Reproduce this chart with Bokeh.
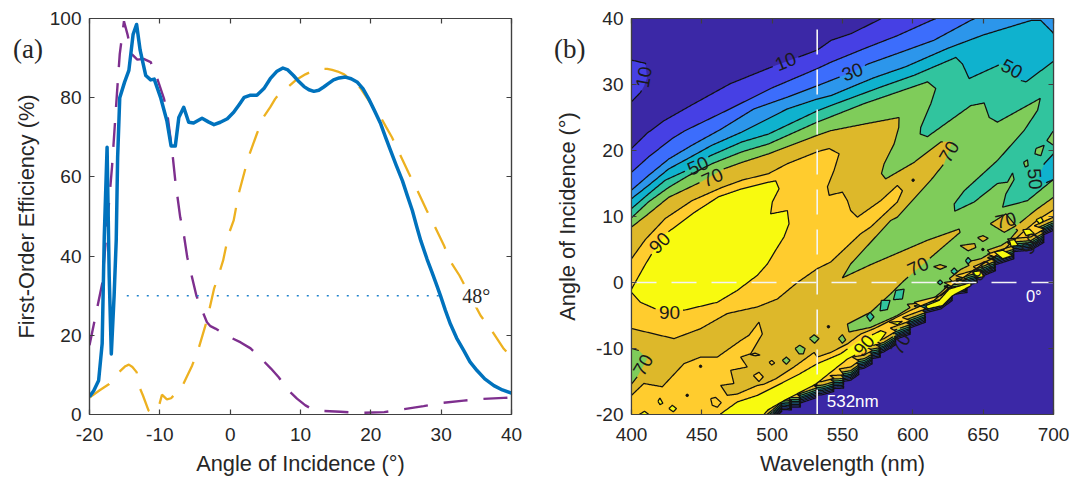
import numpy as np
from bokeh.plotting import figure
from bokeh.layouts import row
from bokeh.models import Range1d, LinearAxis, FixedTicker, Label, Div
from bokeh.core.properties import value
from bokeh.embed import file_html
from bokeh.resources import INLINE

# ---------- panel (a) data ----------
x_ticks_a = [-20, -10, 0, 10, 20, 30, 40]
x_labels_a = ["-20", "-10", "0", "10", "20", "30", "40"]
y_ticks_a = [0, 20, 40, 60, 80, 100]
y_labels_a = ["0", "20", "40", "60", "80", "100"]

blue_x = [-20, -19.4, -18.7, -18.2, -17.9, -17.5, -17.2, -16.9, -16.5, -16.2, -16, -15.7, -15, -14.4, -13.8, -13.3, -12.8, -12, -11.3, -10.8, -9.9, -9, -8.4, -7.8, -7.3, -6.6, -5.9, -5.2, -4, -3.1, -2.3, -1.4, -0.4, 0.5, 1.3, 2, 2.8, 3.8, 4.8, 5.7, 6.6, 7.5, 8.2, 9, 9.8, 10.5, 11.2, 11.9, 12.6, 13.3, 14, 14.7, 15.5, 16.4, 17.2, 18.1, 18.9, 19.7, 20.5, 21.4, 22.1, 22.8, 23.6, 24.5, 25.2, 25.9, 26.5, 27.1, 28, 28.7, 29.3, 29.9, 30.6, 31.3, 32.2, 33.2, 34.1, 35.1, 36.2, 37.5, 38.7, 40]
blue_y = [4.5, 6, 8.6, 17.9, 45, 67.5, 35, 15.3, 30, 44, 65, 80, 84, 86.9, 96, 98.5, 92, 85.6, 84.5, 84.7, 80.1, 74.2, 67.8, 67.8, 75, 77.6, 73.8, 73.6, 74.8, 73.9, 73.2, 73.8, 74.7, 76.3, 78.3, 80.1, 80.6, 80.6, 82.3, 84.8, 86.6, 87.5, 87, 85.6, 84, 82.8, 82, 81.6, 81.9, 82.7, 83.6, 84.5, 85, 85.2, 84.8, 83.9, 82.2, 79.7, 76.8, 73.4, 70, 66.7, 63, 59, 55.2, 51.5, 47.6, 43.9, 39.2, 35.9, 33, 30, 26.3, 22.9, 19.3, 16.2, 13.3, 11.1, 9, 7.3, 6.2, 5.4]

purple_x = [-20, -18.2, -16.8, -16.1, -15.7, -15.1, -14.6, -14, -13.2, -12.3, -11.3, -10.4, -9.4, -8.9, -8.2, -7.8, -7.1, -6.6, -6.1, -5.6, -4.8, -4, -3.3, -2.8, -2.1, -1, 0, 1.5, 2.9, 3.8, 4.7, 5.8, 6.9, 7.6, 8.3, 9.5, 10.7, 11.5, 13, 15.7, 18.6, 21.9, 24.2, 27.5, 29.9, 33.2, 35.6, 38.9, 40]
purple_y = [17.5, 33, 62.5, 81, 91, 99.3, 96, 91, 89.6, 89.8, 89, 85, 79.7, 75.5, 65.8, 59, 49.8, 45.6, 39.7, 36, 30, 26.3, 23.3, 22.3, 21.7, 20.5, 19.5, 18.2, 16.7, 15.2, 13.6, 11.6, 9.4, 7.7, 6.1, 4, 2.3, 1.5, 0.9, 0.7, 0.4, 0.6, 1.2, 2.1, 2.9, 3.5, 3.9, 4.2, 4.3]

orange_x = [-20, -18.5, -17.2, -15.8, -14.9, -14.4, -13.9, -13.3, -12.8, -12.4, -11.6, -10.9, -10.1, -9.7, -9, -8.4, -6.8, -5.4, -4.5, -3.3, -2.3, -1.5, -1, -0.2, 0.5, 1.2, 2.6, 3.8, 4.7, 5.7, 6.4, 7, 8.1, 9.3, 10.7, 11.8, 13, 13.8, 14.5, 15.3, 16.2, 17.3, 18.5, 19.8, 21.4, 22.2, 23, 24, 25.4, 26.4, 27.9, 28.9, 30.4, 31.2, 32.6, 35.6, 37, 38.9, 40]
orange_y = [4.3, 6.2, 7.7, 10.7, 12.2, 12.6, 12, 10.7, 6.5, 4.8, 1, 0.3, 2.3, 5, 3.8, 4.1, 7.2, 12.4, 16.6, 23.8, 31.7, 36, 38.9, 45.6, 49, 55.7, 65, 70.9, 75, 77.6, 79.7, 81, 82.5, 84.4, 85.9, 86.8, 87.3, 87.3, 87, 86.6, 85.9, 84.3, 82.5, 79, 75.1, 72.5, 70, 66.2, 60.9, 57.4, 51.7, 48.2, 42.7, 39, 35.1, 25, 21.7, 16.6, 14.5]

dotted_x = [-14.7, 30]
dotted_y = [30, 30]

# ---------- panel (b) data: boundaries of the filled contour levels ----------
x_ticks_b = [400, 450, 500, 550, 600, 650, 700]
x_labels_b = ["400", "450", "500", "550", "600", "650", "700"]
y_ticks_b = [-20, -10, 0, 10, 20, 30, 40]
y_labels_b = ["-20", "-10", "0", "10", "20", "30", "40"]

band_colors = ["#3B28A6", "#4640E4", "#3C6DFC", "#2C96EB", "#0FB2CE", "#31C49E", "#7FCC5A", "#DDB82A", "#FFCC2E", "#F8FA0F"]

l10_lam = [394, 400, 411, 423, 442, 470, 499, 532, 542, 556, 575, 590]
l10_ang = [19, 20.3, 22.6, 24.5, 26.8, 30.1, 32.6, 35.2, 36.7, 37.7, 39.7, 41.5]
l20_lam = [394, 400, 412, 428.8, 438, 470, 499, 532, 542, 565, 589, 613, 640]
l20_ang = [15, 16.7, 19, 21.8, 23, 26.3, 29.4, 32.4, 33.4, 35.4, 37.4, 39.7, 42]
l30_lam = [394, 400, 412, 426.4, 443, 463.4, 487, 511, 532, 557, 568, 589, 615, 641, 660]
l30_ang = [12.5, 14, 16.2, 18.7, 20.8, 23.2, 26.3, 28.1, 29.8, 31.9, 33.1, 34.7, 36.7, 39.7, 41.5]
l40_lam = [394, 400, 412, 426.4, 439.4, 457.2, 478.5, 510.8, 532, 541.6, 572, 595, 625, 650, 684, 691, 699, 706]
l40_ang = [11.5, 12.7, 14.7, 17.2, 18.7, 20.8, 22.8, 26.3, 27.8, 28.3, 31, 32.7, 35.5, 37.5, 39.7, 39.7, 38, 36]
l50_lam = [394, 400, 412, 424, 439.4, 456, 478.5, 497.5, 532, 541.6, 577, 601, 630.6, 635.3, 640, 662.6, 676.8, 680.4, 699.3, 706]
l50_ang = [10, 11.2, 13.4, 15.5, 17, 19.2, 21.3, 22.5, 26, 26.8, 29.6, 31.4, 34.1, 33.1, 30.9, 33.1, 30.6, 30.4, 33.4, 34.5]
l60_lam = [394, 400, 412, 426.4, 440.6, 457.2, 478.5, 497.5, 532, 541.6, 565.3, 610.4, 616.3, 612.8, 605.6, 605.2, 610.4, 641.2, 650.7, 654.3, 660.2, 690.6, 688.7, 679, 660.2, 636.5, 629.4, 629.8, 643.6, 660.2, 667.3, 670.9, 672, 666.1, 663.8, 681.5, 699.3, 706]
l60_ang = [8.6, 9.8, 12.2, 14.4, 16.2, 18, 19.8, 21, 24.3, 25.1, 27.1, 30.4, 29.4, 27.1, 23.5, 22.5, 22.1, 26.8, 27.2, 25, 24.3, 27.9, 26.1, 23, 18.5, 13.9, 11.9, 10.8, 12.2, 15, 15.2, 16.6, 15.6, 13.4, 11.4, 12.4, 15.5, 16]
l70_lam = [394, 400, 412, 426.4, 449, 465.5, 478.5, 497.5, 532, 541.6, 565.3, 590.2, 590, 586.7, 579.6, 577.7, 580.7, 600.9, 619.9, 628.2, 622.2, 612.8, 589, 584.3, 555.8, 549.9, 570, 610.4, 632.9, 633.6, 612.8, 593.8, 584.3, 570, 553.5, 554.6, 570, 589, 598, 596, 609.2, 613, 619.9, 628.2, 626, 634.2, 640, 638, 648.4, 655, 653, 662.7, 668, 674.5, 672, 679.3, 688.8, 700.6, 706]
l70_ang = [7, 8.4, 10.4, 12.9, 15.2, 17.2, 18.2, 19.5, 22.3, 23, 24, 25, 23.5, 21, 18, 16.5, 15.7, 18.2, 21.3, 21.4, 18, 15.5, 9.9, 9.4, 2.8, 0.7, 2.7, 6.4, 8.1, 7.6, 3.8, 0.3, -1.7, -4.5, -6.3, -7.5, -6.8, -5, -3.8, -3.3, -3, -2.7, -1.5, 0.1, 0.6, 2, 2.6, 3.1, 3.6, 4.4, 4.9, 5.6, 6.3, 7.9, 8.3, 9.6, 11.2, 13, 14]
l80a_lam = [394, 400, 409.8, 424, 443, 464.3, 478.5, 497.5, 510.8, 532, 540.5, 547.6, 544, 539.3, 540.5, 549.9, 553.5, 555.8, 560.6, 577.2, 589, 592.6, 589, 570, 563, 541.6, 532.1, 517.9, 503.7, 489.5, 468.1, 449.1, 430.2, 400.5, 394]
l80a_ang = [2, 3.6, 6.5, 9.7, 12.4, 14.4, 15.5, 16.5, 18, 19.8, 20.3, 19.5, 17, 14.5, 13.2, 13.7, 12.4, 10.9, 9.9, 12.4, 14.7, 13.9, 12.2, 8.4, 7.4, 3.1, 2.1, 0, -2.5, -3.7, -4.7, -7, -8.5, -7, -6.5]
l80b_lam = [394, 400, 408.8, 421.9, 437.3, 449.1, 461, 477.6, 483.5, 490.6, 493, 484.7, 477.6, 482.3, 470.5, 472.8, 463.4, 468.1, 475.2, 489.5, 494.2, 502.5, 515.5, 529.8, 532.1, 541.6, 553.5, 563, 572.4, 577.2, 598.5, 615.1, 629.4, 634.2, 648.4, 662.7, 679.2, 688.8, 700, 706]
l80b_ang = [-19, -17.1, -15.3, -15.8, -12.3, -11.3, -11.3, -8.8, -8, -6, -7.8, -10.8, -11.3, -12.8, -13.3, -15.3, -15.6, -17.1, -16.9, -15.6, -15.4, -14.6, -12.8, -10.6, -11.3, -10.6, -9.3, -7.8, -7, -6.5, -4.2, -2.7, -0.2, 0.5, 2.6, 4.6, 7.8, 9.5, 11, 12]
l90a_lam = [394, 400, 410, 416, 424.2, 427.6, 445.3, 462, 478.5, 497.5, 502.5, 504.9, 500.1, 498.9, 510.8, 512, 508.4, 502.5, 496.6, 489.5, 475.2, 461, 437.3, 417.1, 406.4, 400, 394]
l90a_ang = [-1.5, -1, 2.8, 4.9, 7.4, 7.9, 10.7, 13, 14.2, 15.2, 15.4, 14.2, 12.2, 10.4, 10.9, 8.9, 6.9, 4.9, 2.8, 1.1, -1.2, -3, -4.2, -4, -3, -1.5, -2]
l90b_lam = [460, 463.4, 475.2, 489.5, 507.2, 519.1, 532.1, 548.7, 560.6, 577.2, 581, 577.2, 565.3, 553.5, 541.6, 531, 508.4, 497, 490]
l90b_ang = [-21, -19.9, -18.1, -17.1, -15.2, -13.9, -12.3, -10.8, -9, -7.3, -7.6, -8.7, -10.3, -11.6, -13.6, -15.4, -17.9, -19.3, -21]

cliff_lam = [470, 490, 500, 507, 503, 514, 511, 520.3, 518, 532.1, 530, 535.7, 544, 541, 551, 547.6, 555.9, 561.8, 557, 565.3, 571.3, 566.5, 577.2, 574, 579.5, 588, 584, 598.5, 592.6, 609.2, 600.9, 619.9, 628.2, 622.2, 638.9, 630.5, 646, 643, 659, 653, 672, 667.3, 683.9, 693.4, 686.3, 700, 706]
cliff_ang = [-24, -22.5, -20.8, -19.5, -19.2, -19.3, -18.9, -18.9, -18.4, -17.4, -17.1, -17, -16.5, -16.1, -16, -15.1, -14.8, -13.9, -13.3, -13, -12.3, -11.7, -11.3, -10.9, -10.5, -9.4, -8.9, -7.8, -7.3, -6, -5, -4, -2.7, -2, -1.5, -0.95, 0, 0.4, 1.8, 2.3, 3.6, 4.6, 4.9, 6.1, 6.6, 7.9, 8.6]
cliff_shift = {10: 0, 20: 0.22, 30: 0.44, 40: 0.66, 50: 0.88, 60: 1.15, 70: 1.45, 80: 2.0}

# small closed patches: band index, wavelengths, angles
patch_band = [1, 4, 6, 6, 6, 6, 6, 6, 6, 8, 8, 8, 7, 9, 9, 9, 5, 5, 5, 5, 5, 5, 7, 7, 7, 7, 9, 9, 9, 9, 9, 9, 9, 6]
patch_lam = [
    [394, 400, 410, 411, 409, 406.4, 400, 394],
    [706, 700, 693.4, 691.5, 689.1, 693.4, 700, 706],
    [706, 699.3, 695.3, 699.3, 706],
    [687.5, 693.4, 691, 686.8],
    [678.7, 681.5, 682, 679.9],
    [526.5, 529.8, 533.3, 530.2],
    [516.3, 519.6, 523.4, 522.2, 519.1],
    [507.2, 510.1, 512.7, 510.1],
    [547.1, 549.9, 552.3, 549.9],
    [497.8, 499.7, 501.8, 499.7],
    [486.6, 490.6, 493.7, 490.6],
    [456.3, 459.8, 463.8, 461, 457.4],
    [655, 666.2, 673.3, 665],
    [426.6, 429, 432, 429.7],
    [418.8, 420.2, 422.3, 420.2],
    [404, 409.3, 413.5],
    [587.9, 593.8, 592.6, 586.2],
    [577.6, 583.8, 581.9, 576.7],
    [569.6, 572.4, 569.6, 567.2],
    [617.5, 619.4, 621.3, 619.4],
    [627, 629.4, 631.7, 629.4],
    [637.4, 639.3, 641.5, 639.3],
    [614.7, 619.4, 624.1, 619.4],
    [633.6, 644, 644.8, 639.3],
    [646, 649.8, 653.6, 649.8],
    [484.2, 487.8, 491.4, 487.8],
    [583.1, 592.6, 589],
    [687.6, 691.1, 692.8, 690],
    [678.1, 682.8, 686.4, 680.5],
    [668.6, 672.2, 675, 669.8],
    [657.9, 663.9, 671, 663.9],
    [642.5, 648.4, 650.8, 644.9],
    [609.2, 618.7, 625.8, 641.3, 641.3, 628.2, 621.1, 610.4],
    [394, 400, 405.2, 411.2, 404, 400, 394],
]
patch_ang = [
    [34, 33.7, 33.2, 31, 29.8, 28.8, 27.4, 26],
    [21, 19.5, 18, 17, 16, 15, 15.6, 15.8],
    [24, 22.8, 21.5, 20.9, 20.5],
    [20.3, 20.8, 19.2, 19.5],
    [18.2, 18.6, 17.7, 17.5],
    [-8.5, -7.9, -8.5, -9.2],
    [-10, -9.5, -10, -10.8, -10.8],
    [-11.8, -11.3, -11.8, -12.4],
    [-8.5, -7.9, -8.7, -9.2],
    [-12.1, -11.8, -12.2, -12.5],
    [-14.1, -13.6, -14.3, -15],
    [-17.6, -17.4, -18.2, -18.9, -18.6],
    [8.9, 10.4, 8.6, 7.6],
    [-19.1, -18.6, -19.1, -19.6],
    [-18, -17.5, -18.3, -18.5],
    [-20.2, -19.5, -20.2],
    [-1.2, -1, -2.5, -2.6],
    [-2.7, -2.7, -4.1, -4.3],
    [-4.5, -5.2, -5.9, -5.1],
    [0, 0.4, 0, -0.35],
    [1.7, 2.2, 1.7, 1.2],
    [3.3, 3.8, 3.3, 2.8],
    [2.4, 2.7, 2.4, 2],
    [5.6, 5.9, 5.3, 4.8],
    [6.8, 7.1, 6.7, 6.2],
    [-10.9, -10.7, -11, -11.1],
    [-6, -5.9, -6.4],
    [9.5, 9.9, 9.3, 8.9],
    [8, 8.1, 7.4, 7.1],
    [6.4, 6.5, 5.6, 5.5],
    [4.6, 4.9, 4.1, 3.6],
    [1.6, 1.8, 0.9, 0.7],
    [-3.5, -2.7, -1, 0, -0.5, -2, -3.5, -4],
    [-9.5, -10, -10.3, -11.6, -14.3, -15.4, -16],
]
dot_lam = [449.1, 439.6, 540, 600.2, 649.8]
dot_ang = [-12.7, -17.1, -6.7, 15.5, 5]

lab_text = ["10", "10", "30", "50", "50", "70", "70", "50", "70", "90", "90", "70", "70", "90", "70", "90", "90"]
lab_lam = [509.6, 408.8, 557, 670.4, 447.2, 457.4, 625.8, 686.8, 666, 420, 427, 408.3, 603.7, 565.3, 591.4, 649.5, 683.9]
lab_ang = [33.5, 31.1, 31.9, 32.4, 17.7, 15.9, 19.8, 15.7, 9.4, 6, -4.6, -12.5, 2.4, -9.5, -9.3, 1.8, 5.9]
lab_rot = [22, 80, 20, -28, 24, 24, 60, -85, 12, 45, 0, 60, 25, 50, 60, 40, 60]
lab_level = [10, 10, 30, 50, 50, 70, 70, 50, 70, 90, 90, 70, 70, 90, 70, 90, 90]

wl_line_x = [532, 532]
wl_line_y = [-20, 40]
ang_line_x = [400, 700]
ang_line_y = [0, 0]

SANS = "Liberation Sans"
SERIF = "Liberation Serif"
INK = "#262626"
SPINE = "#404040"


def make_fig(width, left, right, xr, yr, xt, xl, yt, yl, xlabel, ylabel, yst):
    p = figure(width=width, height=479, output_backend="svg", toolbar_location=None,
               x_range=Range1d(*xr), y_range=Range1d(*yr),
               min_border_left=left, min_border_right=right, min_border_top=18, min_border_bottom=65)
    p.grid.visible = False
    p.outline_line_color = SPINE
    p.outline_line_width = 1.2
    p.background_fill_color = "white"
    for ax, t, l, lab in ((p.xaxis[0], xt, xl, xlabel), (p.yaxis[0], yt, yl, ylabel)):
        ax.ticker = FixedTicker(ticks=t)
        ax.major_label_overrides = dict(zip(t, l))
        ax.major_tick_in, ax.major_tick_out, ax.minor_tick_in, ax.minor_tick_out = 5, 0, 0, 0
        ax.axis_line_color = SPINE
        ax.axis_line_width = 1.2
        ax.major_tick_line_color = SPINE
        ax.major_tick_line_width = 1.2
        ax.major_label_text_font = SANS
        ax.major_label_text_font_size = "19px"
        ax.major_label_text_color = INK
        ax.axis_label = lab
        ax.axis_label_text_font = SANS
        ax.axis_label_text_font_size = "21.8px"
        ax.axis_label_text_font_style = "normal"
        ax.axis_label_text_color = INK
    p.xaxis[0].major_label_standoff = 13
    p.xaxis[0].axis_label_standoff = 7
    p.yaxis[0].major_label_standoff = 8
    p.yaxis[0].axis_label_standoff = yst
    p.yaxis[0].major_label_orientation = "horizontal"
    for side, t in (("above", xt), ("right", yt)):
        ax = LinearAxis(ticker=FixedTicker(ticks=t), major_label_overrides={k: "" for k in t}, major_label_standoff=0,
                        major_tick_in=5, major_tick_out=0, minor_tick_in=0, minor_tick_out=0,
                        axis_line_color=SPINE, axis_line_width=1.2, major_tick_line_color=SPINE, major_tick_line_width=1.2)
        p.add_layout(ax, side)
    return p


# ---------- panel (a) ----------
p1 = make_fig(538, 89, 27, (-20, 40), (0, 100), x_ticks_a, x_labels_a, y_ticks_a, y_labels_a,
              "Angle of Incidence (°)", "First-Order Efficiency (%)", 8)
p1.line(purple_x, purple_y, line_color="#7E2F8E", line_width=2.4, line_dash="24 16")
p1.line(orange_x, orange_y, line_color="#EDB120", line_width=2.3, line_dash="24 16")
p1.line(dotted_x, dotted_y, line_color="#1F82CC", line_width=1.5, line_dash="2 8")
p1.add_layout(Label(x=33, y=29.8, text="48°", text_font=SERIF, text_font_size="20px", text_color=INK,
                    text_baseline="middle", background_fill_color="white"))
p1.line(blue_x, blue_y, line_color="#0072BD", line_width=3.5, line_join="round")


# ---------- panel (b) ----------
p2 = make_fig(537, 93, 22, (400, 700), (-20, 40), x_ticks_b, x_labels_b, y_ticks_b, y_labels_b,
              "Wavelength (nm)", "Angle of Incidence (°)", 13)
p2.background_fill_color = band_colors[0]


def with_gaps(lam, ang, level):
    lam, ang = list(lam) + [lam[0]], list(ang) + [ang[0]]
    xs, ys = [], []
    for i in range(len(lam) - 1):
        n = 1 + int(max(abs(lam[i + 1] - lam[i]) * 1.405, abs(ang[i + 1] - ang[i]) * 6.6))
        t = np.arange(n) / n
        xs.append(lam[i] + (lam[i + 1] - lam[i]) * t)
        ys.append(ang[i] + (ang[i + 1] - ang[i]) * t)
    xs, ys = np.concatenate(xs + [[lam[-1]]]), np.concatenate(ys + [[ang[-1]]])
    ys_out = ys.copy()
    for lx, ly, rot, lev in zip(lab_lam, lab_ang, lab_rot, lab_level):
        if lev != level:
            continue
        dx, dy = (xs - lx) * 1.405, (ys - ly) * 6.6
        a = np.deg2rad(rot)
        u, v = dx * np.cos(a) + dy * np.sin(a), -dx * np.sin(a) + dy * np.cos(a)
        ys_out[(np.abs(u) < 13) & (np.abs(v) < 10)] = np.nan
    return xs, ys_out


def draw_ring(lam, ang, band, level=None):
    p2.patch(lam, ang, fill_color=band_colors[band], line_color=None)
    xs, ys = with_gaps(lam, ang, level)
    p2.line(xs, ys, line_color="#111111", line_width=1.25)


def upper_ring(upper_lam, upper_ang, level):
    s = cliff_shift[level]
    lam = list(upper_lam) + cliff_lam[::-1] + [394]
    ang = list(upper_ang) + [a + s for a in cliff_ang[::-1]] + [-24]
    return lam, ang


for lev, ul, ua, band in ((10, l10_lam, l10_ang, 1), (20, l20_lam, l20_ang, 2), (30, l30_lam, l30_ang, 3),
                          (40, l40_lam, l40_ang, 4), (50, l50_lam, l50_ang, 5), (60, l60_lam, l60_ang, 6),
                          (70, l70_lam, l70_ang, 7)):
    if lev in (10, 20, 30):
        # these three leave the frame through the top edge
        ul = list(ul) + [706]
        ua = list(ua) + [42]
    lam, ang = upper_ring(ul, ua, lev)
    draw_ring(lam, ang, band, lev)

draw_ring(l80a_lam, l80a_ang, 8, 80)
lam, ang = upper_ring(l80b_lam, l80b_ang, 80)
draw_ring(lam, ang, 8, 80)
draw_ring(l90a_lam, l90a_ang, 9, 90)
draw_ring(l90b_lam, l90b_ang, 9, 90)

for b, lam, ang in zip(patch_band, patch_lam, patch_ang):
    draw_ring(lam, ang, b, 10 if b == 1 else 70 if b == 6 else 50 if b == 4 else None)

p2.scatter(dot_lam, dot_ang, size=2.5, color="#111111")

p2.text(lab_lam, lab_ang, text=lab_text, angle=lab_rot, angle_units="deg", text_font=value(SANS),
        text_font_size={"value": "19px"}, text_align="center", text_baseline="middle", text_color="#1A1A1A")

p2.line(wl_line_x, wl_line_y, line_color="#F4F4F4", line_width=1.6, line_dash="25 15")
p2.line(ang_line_x, ang_line_y, line_color="#F4F4F4", line_width=1.6, line_dash="25 15")

p2.text([538.8], [-18], text=["532nm"], text_font=value(SANS), text_font_size={"value": "17px"},
        text_color="white", text_baseline="middle")
p2.text([680.4], [-2], text=["0°"], text_font=value(SANS), text_font_size={"value": "16.5px"},
        text_color="white", text_baseline="middle")


def corner(text, left):
    return Div(text=text, width=34, height=30,
               styles={"position": "absolute", "left": f"{left}px", "top": "34px",
                       "font-family": SERIF, "font-size": "27px", "color": INK, "line-height": "30px", "margin": "0"})


open("out.html", "w").write(file_html(row(p1, p2, corner("(a)", 13), corner("(b)", 554), spacing=0), INLINE))
